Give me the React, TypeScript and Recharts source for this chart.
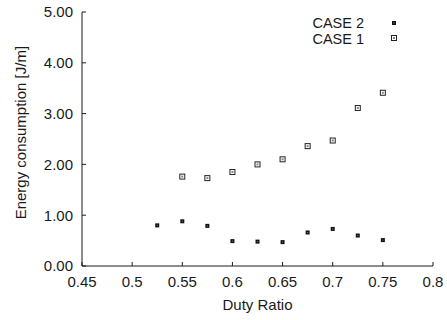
import { ScatterChart, Scatter, XAxis, YAxis, Label } from "recharts";

const dutyCase2 = [0.525, 0.55, 0.575, 0.6, 0.625, 0.65, 0.675, 0.7, 0.725, 0.75];
const energyCase2 = [0.8, 0.88, 0.79, 0.49, 0.48, 0.47, 0.66, 0.73, 0.6, 0.51];
const dutyCase1 = [0.55, 0.575, 0.6, 0.625, 0.65, 0.675, 0.7, 0.725, 0.75];
const energyCase1 = [1.76, 1.73, 1.85, 2.0, 2.1, 2.36, 2.47, 3.11, 3.41];
const xTicks = [0.45, 0.5, 0.55, 0.6, 0.65, 0.7, 0.75, 0.8];
const yTicks = [0, 1, 2, 3, 4, 5];
const seriesNames = ["CASE 2", "CASE 1"];

const case2 = dutyCase2.map((x, i) => ({ x, y: energyCase2[i] }));
const case1 = dutyCase1.map((x, i) => ({ x, y: energyCase1[i] }));

const FONT = "'Liberation Sans', Arial, sans-serif";
const FS = 15;
const INK = "#1a1a1a";
const TICK_LEN = 4;

function StarMark({ cx, cy }: any) {
  return (
    <g>
      <rect x={cx - 2} y={cy - 2} width={4} height={4} fill="#111" />
      <rect x={cx - 0.5} y={cy - 0.5} width={1} height={1} fill="#888" />
    </g>
  );
}

function BoxMark({ cx, cy }: any) {
  return (
    <g>
      <rect x={cx - 2.5} y={cy - 2.5} width={5} height={5} fill="#fff" stroke="#222" strokeWidth={1} />
      <rect x={cx - 1} y={cy - 1} width={2} height={2} fill="#888" />
    </g>
  );
}

const BOTTOM_MARGIN = 10;
function BottomTick({ x, y, payload }: any) {
  const axisY = y - BOTTOM_MARGIN;
  return (
    <g>
      <line x1={x} y1={axisY} x2={x} y2={axisY - TICK_LEN} stroke={INK} />
      <text x={x} y={y} dy="0.72em" textAnchor="middle" fill={INK} fontSize={FS} fontFamily={FONT}>
        {String(payload.value)}
      </text>
    </g>
  );
}

const LEFT_MARGIN = 9;
function LeftTick({ x, y, payload }: any) {
  const axisX = x + LEFT_MARGIN;
  return (
    <g>
      <line x1={axisX} y1={y} x2={axisX + TICK_LEN} y2={y} stroke={INK} />
      <text x={x} y={y} dy="0.36em" textAnchor="end" fill={INK} fontSize={FS} fontFamily={FONT}>
        {payload.value.toFixed(2)}
      </text>
    </g>
  );
}

function TopTick({ x, y }: any) {
  return <line x1={x} y1={y} x2={x} y2={y + TICK_LEN} stroke={INK} />;
}

function RightTick({ x, y }: any) {
  return <line x1={x} y1={y} x2={x - TICK_LEN} y2={y} stroke={INK} />;
}

export default function App() {
  return (
    <div style={{ position: "absolute", left: 0, top: 0, width: 447, height: 320, background: "#fff" }}>
      <ScatterChart width={447} height={320} margin={{ top: 12, right: 14, bottom: 0, left: 0 }}>
        <XAxis
          type="number"
          dataKey="x"
          domain={[0.45, 0.8]}
          ticks={xTicks}
          height={54}
          tickSize={0}
          tickMargin={BOTTOM_MARGIN}
          tickLine={false}
          tick={<BottomTick />}
          axisLine={{ stroke: INK }}
          interval={0}
        >
          <Label
            content={({ viewBox }: any) => (
              <text
                x={viewBox.x + viewBox.width / 2}
                y={viewBox.y + 44}
                textAnchor="middle"
                fill={INK}
                fontSize={FS}
                fontFamily={FONT}
              >
                Duty Ratio
              </text>
            )}
          />
        </XAxis>
        <XAxis
          xAxisId="top"
          orientation="top"
          type="number"
          domain={[0.45, 0.8]}
          ticks={xTicks}
          height={0}
          tickSize={0}
          tickMargin={0}
          tickLine={false}
          tick={<TopTick />}
          axisLine={{ stroke: INK }}
          interval={0}
        />
        <YAxis
          type="number"
          dataKey="y"
          domain={[0, 5]}
          ticks={yTicks}
          width={82}
          tickSize={0}
          tickMargin={LEFT_MARGIN}
          tickLine={false}
          tick={<LeftTick />}
          axisLine={{ stroke: INK }}
          interval={0}
        >
          <Label
            content={({ viewBox }: any) => {
              const cx = viewBox.x + 21;
              const cy = viewBox.y + viewBox.height * 0.475;
              return (
                <text
                  x={cx}
                  y={cy}
                  dy="0.36em"
                  transform={`rotate(-90, ${cx}, ${cy})`}
                  textAnchor="middle"
                  fill={INK}
                  fontSize={FS}
                  fontFamily={FONT}
                >
                  Energy consumption [J/m]
                </text>
              );
            }}
          />
        </YAxis>
        <YAxis
          yAxisId="right"
          orientation="right"
          type="number"
          domain={[0, 5]}
          ticks={yTicks}
          width={0}
          tickSize={0}
          tickMargin={0}
          tickLine={false}
          tick={<RightTick />}
          axisLine={{ stroke: INK }}
          interval={0}
        />
        <Scatter name={seriesNames[0]} data={case2} shape={<StarMark />} isAnimationActive={false} />
        <Scatter name={seriesNames[1]} data={case1} shape={<BoxMark />} isAnimationActive={false} />
        {seriesNames.map((name, i) => (
          <g key={name}>
            <text
              x={364}
              y={23 + i * 16}
              dy="0.36em"
              textAnchor="end"
              fill={INK}
              fontSize={14.5}
              fontFamily={FONT}
            >
              {name}
            </text>
            {i === 0 ? <StarMark cx={394} cy={23} /> : <BoxMark cx={394} cy={38} />}
          </g>
        ))}
      </ScatterChart>
    </div>
  );
}
